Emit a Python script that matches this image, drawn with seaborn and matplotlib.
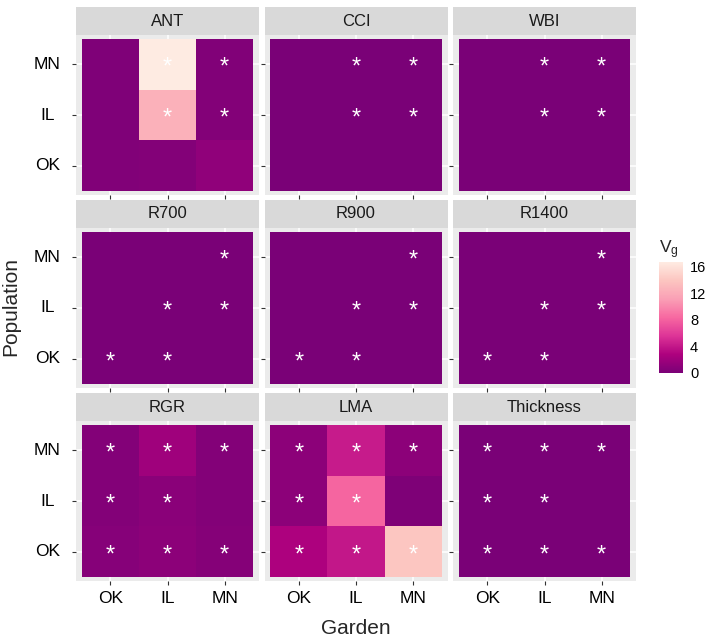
import numpy as np
import pandas as pd
import matplotlib
matplotlib.use("Agg")
import matplotlib.pyplot as plt
from matplotlib.colors import LinearSegmentedColormap
import seaborn as sns

sns.set_theme(style="white")
plt.rcParams["font.family"] = ["Liberation Sans", "DejaVu Sans"]

# ---------------- data ----------------
gardens = ["OK", "IL", "MN"]
populations = ["MN", "IL", "OK"]          # top to bottom
traits = ["ANT", "CCI", "WBI", "R700", "R900", "R1400", "RGR", "LMA", "Thickness"]

# rows = population (MN, IL, OK), cols = garden (OK, IL, MN)
vg_ANT = [[0.3, 16.7, 0.4], [0.3, 12.4, 0.5], [0.4, 0.5, 1.2]]
vg_CCI = [[0.05, 0.05, 0.05], [0.05, 0.05, 0.05], [0.05, 0.05, 0.05]]
vg_WBI = [[0.05, 0.05, 0.05], [0.05, 0.05, 0.05], [0.05, 0.05, 0.05]]
vg_R700 = [[0.05, 0.05, 0.05], [0.05, 0.05, 0.05], [0.05, 0.05, 0.05]]
vg_R900 = [[0.05, 0.05, 0.05], [0.05, 0.05, 0.05], [0.05, 0.05, 0.05]]
vg_R1400 = [[0.05, 0.05, 0.05], [0.05, 0.05, 0.05], [0.05, 0.05, 0.05]]
vg_RGR = [[0.5, 2.0, 0.5], [0.5, 0.9, 0.5], [0.7, 1.0, 0.6]]
vg_LMA = [[1.0, 4.2, 1.0], [1.0, 8.2, 0.2], [2.8, 4.0, 14.0]]
vg_Thickness = [[0.05, 0.05, 0.05], [0.05, 0.05, 0.05], [0.05, 0.05, 0.05]]

sig_ANT = [["", "*", "*"], ["", "*", "*"], ["", "", ""]]
sig_CCI = [["", "*", "*"], ["", "*", "*"], ["", "", ""]]
sig_WBI = [["", "*", "*"], ["", "*", "*"], ["", "", ""]]
sig_R700 = [["", "", "*"], ["", "*", "*"], ["*", "*", ""]]
sig_R900 = [["", "", "*"], ["", "*", "*"], ["*", "*", ""]]
sig_R1400 = [["", "", "*"], ["", "*", "*"], ["*", "*", ""]]
sig_RGR = [["*", "*", "*"], ["*", "*", ""], ["*", "*", "*"]]
sig_LMA = [["*", "*", "*"], ["*", "*", ""], ["*", "*", "*"]]
sig_Thickness = [["*", "*", "*"], ["*", "*", ""], ["*", "*", "*"]]

vg_all = {"ANT": vg_ANT, "CCI": vg_CCI, "WBI": vg_WBI, "R700": vg_R700,
          "R900": vg_R900, "R1400": vg_R1400, "RGR": vg_RGR, "LMA": vg_LMA,
          "Thickness": vg_Thickness}
sig_all = {"ANT": sig_ANT, "CCI": sig_CCI, "WBI": sig_WBI, "R700": sig_R700,
           "R900": sig_R900, "R1400": sig_R1400, "RGR": sig_RGR, "LMA": sig_LMA,
           "Thickness": sig_Thickness}

records = []
for t in traits:
    for i, p in enumerate(populations):
        for j, g in enumerate(gardens):
            records.append({"Trait": t, "Population": p, "Garden": g,
                            "Vg": vg_all[t][i][j], "sig": sig_all[t][i][j]})
df = pd.DataFrame(records)

vmin, vmax = 0.0, df["Vg"].max()
cmap = LinearSegmentedColormap.from_list(
    "rdpu7", ["#7a0177", "#ae017e", "#dd3497", "#f768a1", "#fa9fb5", "#fcc5c0", "#feebe2"])

# ---------------- layout (pixels) ----------------
W, H = 709, 640
fig = plt.figure(figsize=(W / 100, H / 100), dpi=100)
col_x = [76, 264.5, 453]
pan_w = 183
row_top = [35, 228, 421]
pan_h = 160
strip_h = 28


def rect(x0, y0, w, h):
    return [x0 / W, 1 - (y0 + h) / H, w / W, h / H]


cax = fig.add_axes(rect(659, 262, 24, 111))

for k, t in enumerate(traits):
    r, c = divmod(k, 3)
    ax = fig.add_axes(rect(col_x[c], row_top[r], pan_w, pan_h))
    sub = df[df["Trait"] == t]
    mat = sub.pivot(index="Population", columns="Garden", values="Vg").reindex(
        index=populations, columns=gardens)
    ann = sub.pivot(index="Population", columns="Garden", values="sig").reindex(
        index=populations, columns=gardens)
    sns.heatmap(mat, ax=ax, cmap=cmap, vmin=vmin, vmax=vmax,
                cbar=(k == 0), cbar_ax=cax if k == 0 else None,
                annot=ann.values, fmt="",
                annot_kws=dict(color="white", fontsize=17),
                linewidths=0)
    for txt in ax.texts:
        x, y = txt.get_position()
        txt.set_position((x, y + 0.07))
    ax.set_facecolor("#EBEBEB")
    for v in [0.5, 1.5, 2.5]:
        ax.axvline(v, color="white", lw=1.1, zorder=0)
        ax.axhline(v, color="white", lw=1.1, zorder=0)
    ax.set_xlim(-0.1, 3.1)
    ax.set_ylim(3.07, -0.07)
    ax.set_xlabel("")
    ax.set_ylabel("")
    for s in ax.spines.values():
        s.set_visible(False)
    ax.tick_params(axis="both", length=2.9, width=0.8, color="#333333",
                   labelsize=12.5, labelcolor="black", bottom=True, left=True)
    ax.set_xticks([0.5, 1.5, 2.5])
    ax.set_yticks([0.5, 1.5, 2.5])
    if r == 2:
        ax.set_xticklabels(gardens, rotation=0)
        ax.tick_params(axis="x", pad=4)
    else:
        ax.set_xticklabels([])
    if c == 0:
        ax.set_yticklabels(populations, rotation=0, ha="center")
        ax.tick_params(axis="y", pad=17.6)
    else:
        ax.set_yticklabels([])

    sax = fig.add_axes(rect(col_x[c], row_top[r] - strip_h, pan_w, strip_h))
    sax.set_facecolor("#D9D9D9")
    sax.set_xticks([])
    sax.set_yticks([])
    for s in sax.spines.values():
        s.set_visible(False)
    sax.text(0.5, 0.5, t, ha="center", va="center", fontsize=12,
             color="#1A1A1A", transform=sax.transAxes)

# colorbar styling
cbar = fig.axes[1].collections[0].colorbar
cbar.outline.set_visible(False)
cbar.set_ticks([0, 4, 8, 12, 16])
cax.tick_params(axis="y", direction="in", length=4.5, width=0.8, color="white",
                labelcolor="black", labelsize=10.5, left=True, right=True, pad=5)
cax.set_title(r"$\mathregular{V_g}$", loc="left", fontsize=12.5, pad=6)

fig.text(356 / W, 1 - 628 / H, "Garden", ha="center", va="center", fontsize=15)
fig.text(10.5 / W, 1 - 306 / H, "Population", rotation=90, ha="center",
         va="center", fontsize=15)

fig.savefig("out.png", dpi=100, facecolor="white")
